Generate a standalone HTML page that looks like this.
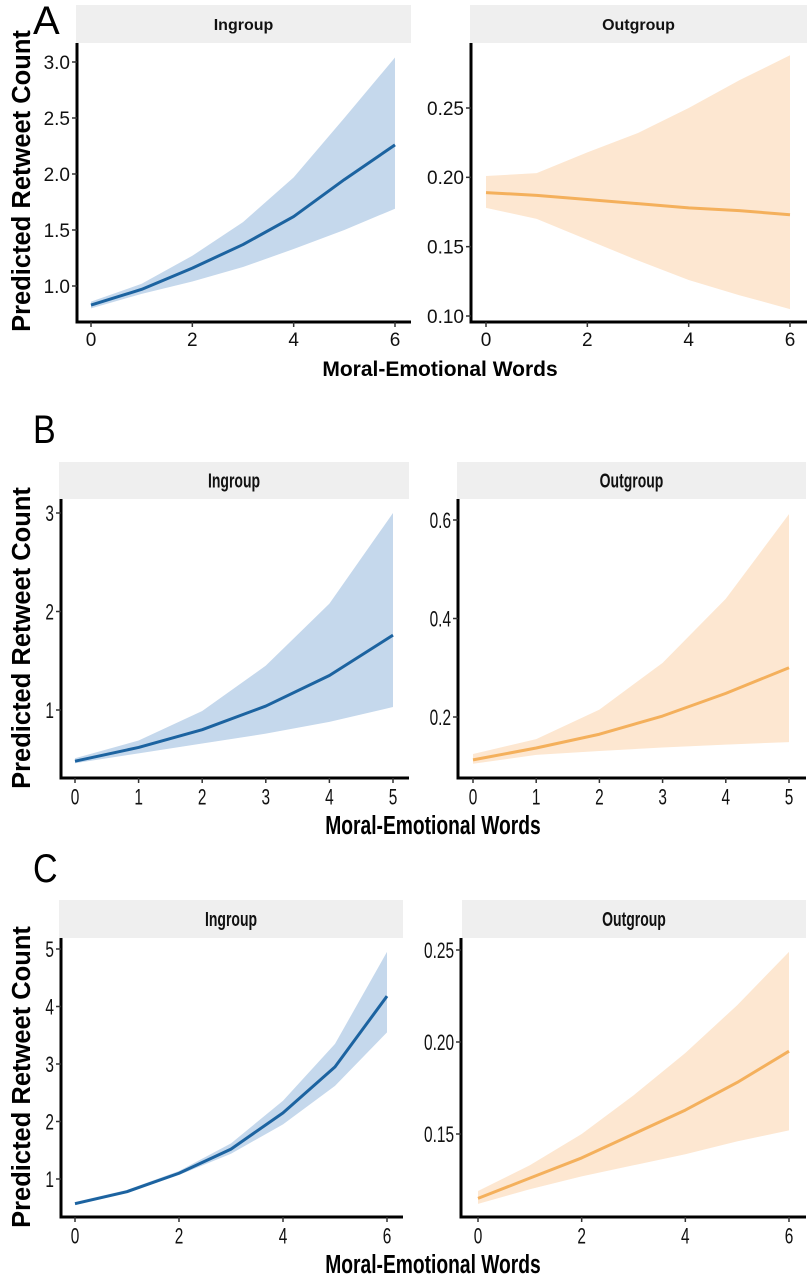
<!DOCTYPE html>
<html><head><meta charset="utf-8"><style>
body{margin:0;background:#fff;}
svg{display:block;font-family:"Liberation Sans",sans-serif;}
</style></head><body>
<svg id="chart" width="810" height="1280" viewBox="0 0 810 1280"></svg>
<script>
// ---- data ----
const xA = [0,1,2,3,4,5,6];
const xB = [0,1,2,3,4,5];
const xC = [0,1,2,3,4,5,6];
const aInMean = [0.83,0.97,1.16,1.37,1.62,1.95,2.26];
const aInLo   = [0.80,0.93,1.04,1.17,1.33,1.50,1.69];
const aInHi   = [0.86,1.02,1.27,1.57,1.97,2.50,3.04];
const aOutMean = [0.189,0.187,0.184,0.181,0.178,0.176,0.173];
const aOutLo   = [0.178,0.170,0.155,0.140,0.126,0.115,0.105];
const aOutHi   = [0.201,0.203,0.218,0.232,0.250,0.270,0.288];
const bInMean = [0.48,0.62,0.80,1.04,1.35,1.76];
const bInLo   = [0.46,0.56,0.66,0.76,0.88,1.03];
const bInHi   = [0.51,0.69,0.99,1.45,2.08,3.00];
const bOutMean = [0.113,0.137,0.165,0.202,0.248,0.300];
const bOutLo   = [0.105,0.123,0.131,0.138,0.144,0.149];
const bOutHi   = [0.125,0.155,0.215,0.310,0.440,0.612];
const cInMean = [0.57,0.78,1.10,1.52,2.15,2.95,4.18];
const cInLo   = [0.55,0.76,1.07,1.44,1.95,2.62,3.55];
const cInHi   = [0.60,0.81,1.14,1.62,2.36,3.35,4.95];
const cOutMean = [0.115,0.126,0.137,0.150,0.163,0.178,0.195];
const cOutLo   = [0.112,0.120,0.127,0.133,0.139,0.146,0.152];
const cOutHi   = [0.119,0.133,0.150,0.171,0.194,0.220,0.249];
const aInYTicks = [1.0,1.5,2.0,2.5,3.0];
const aOutYTicks = [0.10,0.15,0.20,0.25];
const bInYTicks = [1,2,3];
const bOutYTicks = [0.2,0.4,0.6];
const cInYTicks = [1,2,3,4,5];
const cOutYTicks = [0.15,0.20,0.25];
const xTicksEven = [0,2,4,6];
const xTicksAll = [0,1,2,3,4,5];

const NS="http://www.w3.org/2000/svg";
const svg=document.getElementById('chart');
function mk(tag,attrs,parent){const e=document.createElementNS(NS,tag);for(const k in attrs)e.setAttribute(k,attrs[k]);(parent||svg).appendChild(e);return e;}

function panel(p){
  const g=mk('g',{});
  
  
  const sx=v=>p.x0+(v-p.xv0)*(p.x1-p.x0)/(p.xv1-p.xv0);
  const sy=v=>p.y0+(v-p.yv0)*(p.y1-p.y0)/(p.yv1-p.yv0);
  const strip=mk('rect',{x:p.sl,y:p.st,width:p.sr-p.sl,height:p.sb-p.st,fill:'#efefef'},g);
  
  
  const st=mk('text',{x:0,y:0,'font-size':p.sfs,'font-weight':'bold','text-anchor':'middle',fill:'#111',transform:`translate(${(p.sl+p.sr)/2},${(p.st+p.sb)/2+p.sfs*0.36}) scale(${p.cx},1)`},g);
  st.textContent=p.title;
  
  
  let d='';
  p.xs.forEach((x,i)=>{d+=(i?'L':'M')+sx(x)+','+sy(p.hi[i]);});
  for(let i=p.xs.length-1;i>=0;i--)d+='L'+sx(p.xs[i])+','+sy(p.lo[i]);
  const rib=mk('path',{d:d+'Z',fill:p.fill},g);
  
  
  const line=mk('polyline',{points:p.xs.map((x,i)=>sx(x)+','+sy(p.mean[i])).join(' '),fill:'none',stroke:p.col,'stroke-width':3,'stroke-linejoin':'round'},g);
  
  
  const ya=mk('line',{x1:p.ax,y1:p.sb,x2:p.ax,y2:p.ab+1.5,stroke:'#000','stroke-width':3},g);
  
  
  const xa=mk('line',{x1:p.ax-1.5,y1:p.ab,x2:p.sr,y2:p.ab,stroke:'#000','stroke-width':3},g);
  
  
  p.yt.forEach(v=>{
    const y=sy(v);
    mk('line',{x1:p.ax-5,y1:y,x2:p.ax,y2:y,stroke:'#333','stroke-width':1.5},g);
    const t=mk('text',{x:0,y:0,'font-size':p.tfs,'text-anchor':'end',fill:'#111',transform:`translate(${p.ax-7},${y+p.tfs*0.36}) scale(${p.cx},1)`},g);
    t.textContent=p.yfmt(v);
    
    
  });
  p.xt.forEach(v=>{
    const x=sx(v);
    mk('line',{x1:x,y1:p.ab,x2:x,y2:p.ab+5,stroke:'#333','stroke-width':1.5},g);
    const t=mk('text',{x:0,y:0,'font-size':p.tfs,'text-anchor':'middle',fill:'#111',transform:`translate(${x},${p.ab+9+p.tfs*0.8}) scale(${p.cx},1)`},g);
    t.textContent=String(v);
    
    
  });
}
const BLUE='#1c63a0',BFILL='#c5d8ec',OR='#f4b05c',OFILL='#fde7d1';
const f1=v=>v.toFixed(1), f2=v=>v.toFixed(2), f0=v=>String(v);

panel({name:'panel-a-ingroup',title:'Ingroup',sl:76,sr:411,st:5,sb:43,ax:77,ab:322,x0:91,x1:395,xv0:0,xv1:6,y0:286,y1:62,yv0:1,yv1:3,xs:xA,mean:aInMean,lo:aInLo,hi:aInHi,col:BLUE,fill:BFILL,yt:aInYTicks,xt:xTicksEven,yfmt:f1,tfs:19,sfs:16,cx:1});
panel({name:'panel-a-outgroup',title:'Outgroup',sl:470,sr:807,st:5,sb:43,ax:471,ab:322,x0:486,x1:790,xv0:0,xv1:6,y0:316,y1:108,yv0:0.10,yv1:0.25,xs:xA,mean:aOutMean,lo:aOutLo,hi:aOutHi,col:OR,fill:OFILL,yt:aOutYTicks,xt:xTicksEven,yfmt:f2,tfs:19,sfs:16,cx:1});
panel({name:'panel-b-ingroup',title:'Ingroup',sl:59,sr:409,st:462,sb:499,ax:61,ab:778,x0:75,x1:393,xv0:0,xv1:5,y0:710,y1:513,yv0:1,yv1:3,xs:xB,mean:bInMean,lo:bInLo,hi:bInHi,col:BLUE,fill:BFILL,yt:bInYTicks,xt:xTicksAll,yfmt:f0,tfs:22,sfs:20,cx:0.7});
panel({name:'panel-b-outgroup',title:'Outgroup',sl:457,sr:806,st:462,sb:499,ax:458,ab:778,x0:473,x1:789,xv0:0,xv1:5,y0:717,y1:520,yv0:0.2,yv1:0.6,xs:xB,mean:bOutMean,lo:bOutLo,hi:bOutHi,col:OR,fill:OFILL,yt:bOutYTicks,xt:xTicksAll,yfmt:f1,tfs:22,sfs:20,cx:0.7});
panel({name:'panel-c-ingroup',title:'Ingroup',sl:59,sr:403,st:900,sb:938,ax:61,ab:1217,x0:75,x1:387,xv0:0,xv1:6,y0:1179,y1:949,yv0:1,yv1:5,xs:xC,mean:cInMean,lo:cInLo,hi:cInHi,col:BLUE,fill:BFILL,yt:cInYTicks,xt:xTicksEven,yfmt:f0,tfs:22,sfs:20,cx:0.7});
panel({name:'panel-c-outgroup',title:'Outgroup',sl:462,sr:806,st:900,sb:938,ax:461,ab:1217,x0:478,x1:789,xv0:0,xv1:6,y0:1134,y1:950,yv0:0.15,yv1:0.25,xs:xC,mean:cOutMean,lo:cOutLo,hi:cOutHi,col:OR,fill:OFILL,yt:cOutYTicks,xt:xTicksEven,yfmt:f2,tfs:22,sfs:20,cx:0.7});

function label(txt,fs,opts,name){
  const t=mk('text',Object.assign({x:0,y:0,'font-size':fs,fill:'#000'},opts));
  t.textContent=txt;
  
  
  return t;
}
label('A',40,{transform:'translate(33,34)'},'panel-label-a');
label('B',40,{transform:'translate(33,443) scale(0.85,1)'},'panel-label-b');
label('C',40,{transform:'translate(33,882) scale(0.85,1)'},'panel-label-c');
label('Predicted Retweet Count',25.5,{'font-weight':'bold','text-anchor':'middle',transform:'translate(30,181) rotate(-90)'},'y-axis-title-a');
label('Predicted Retweet Count',25.5,{'font-weight':'bold','text-anchor':'middle',transform:'translate(30,638) rotate(-90)'},'y-axis-title-b');
label('Predicted Retweet Count',25.5,{'font-weight':'bold','text-anchor':'middle',transform:'translate(30,1077) rotate(-90)'},'y-axis-title-c');
label('Moral-Emotional Words',21,{'font-weight':'bold','text-anchor':'middle',transform:'translate(440,376)'},'x-axis-title-a');
label('Moral-Emotional Words',26,{'font-weight':'bold','text-anchor':'middle',transform:'translate(433,834) scale(0.74,1)'},'x-axis-title-b');
label('Moral-Emotional Words',26,{'font-weight':'bold','text-anchor':'middle',transform:'translate(433,1273) scale(0.74,1)'},'x-axis-title-c');
</script>
</body></html>
